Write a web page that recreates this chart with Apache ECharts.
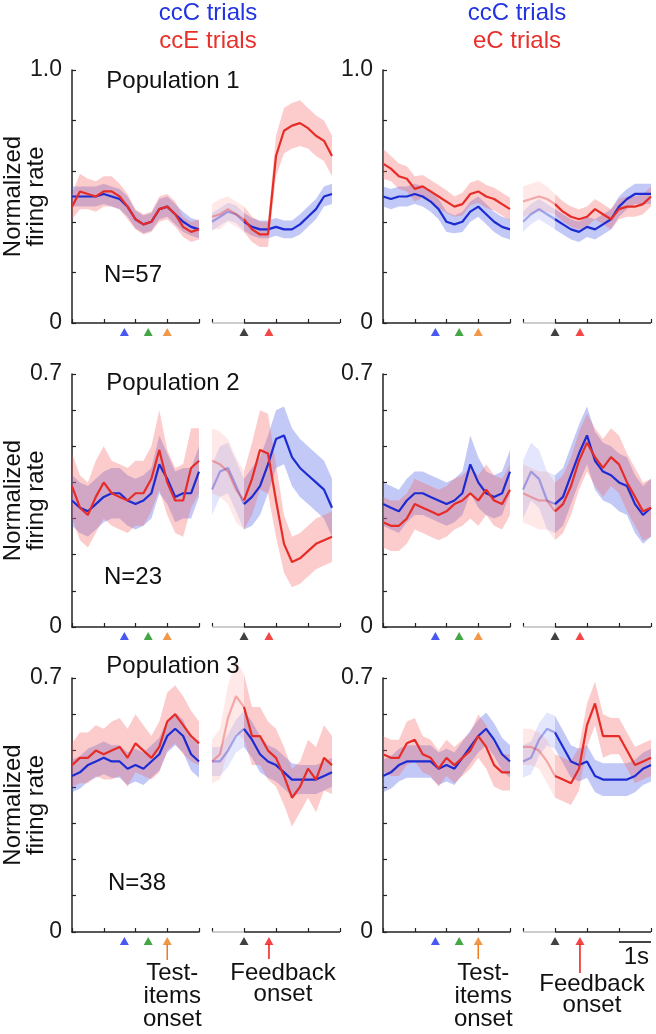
<!DOCTYPE html>
<html><head><meta charset="utf-8">
<script src="https://cdn.jsdelivr.net/npm/echarts@6/dist/echarts.min.js"></script>
<style>html,body{margin:0;padding:0;background:#fff}#c{width:656px;height:1034px}</style>
</head><body><div id="c"></div>
<script>
// ---- time grids (s) ----
const T_TEST = [-3,-2.75,-2.5,-2.25,-2,-1.75,-1.5,-1.25,-1,-0.75,-0.5,-0.25,0,0.25,0.5,0.75,1];
const T_FB = [-1,-0.75,-0.5,-0.25,0,0.25,0.5,0.75,1,1.25,1.5,1.75,2,2.25,2.5,2.75,3];
const MARK_TEST = [-1.35, -0.6, 0];   // blue, green, orange event markers
const MARK_FB = [0, 0.78];            // black (response), red (feedback)
const Y_MAX = [1.0, 0.7, 0.7];
const Y_STEP = [0.2, 0.1, 0.1];
const Y_TOP_LABEL = ['1.0', '0.7', '0.7'];
const POP_TITLES = ['Population 1', 'Population 2', 'Population 3'];
const POP_N = ['N=57', 'N=23', 'N=38'];
const LEG_LEFT = ['ccC trials', 'ccE trials'];
const LEG_RIGHT = ['ccC trials', 'eC trials'];

// ---- Population 1, left (ccC blue / ccE red) ----
const p1L_blueTest   = [0.50,0.50,0.50,0.50,0.51,0.50,0.49,0.46,0.41,0.39,0.40,0.45,0.46,0.43,0.40,0.38,0.37];
const p1L_blueTestSE = [0.04,0.04,0.04,0.04,0.04,0.04,0.04,0.04,0.035,0.035,0.035,0.04,0.04,0.04,0.04,0.035,0.035];
const p1L_redTest    = [0.46,0.52,0.51,0.50,0.52,0.52,0.50,0.46,0.41,0.39,0.40,0.45,0.46,0.43,0.38,0.36,0.37];
const p1L_redTestSE  = [0.05,0.07,0.06,0.06,0.06,0.06,0.05,0.05,0.04,0.04,0.04,0.05,0.05,0.05,0.04,0.04,0.04];
const p1L_blueFb     = [0.40,0.42,0.44,0.43,0.40,0.38,0.37,0.37,0.38,0.37,0.37,0.39,0.42,0.45,0.50,0.51];
const p1L_blueFbSE   = [0.035,0.035,0.035,0.035,0.035,0.035,0.035,0.035,0.035,0.035,0.035,0.04,0.04,0.04,0.04,0.04];
const p1L_redFb      = [0.42,0.43,0.45,0.43,0.41,0.37,0.35,0.35,0.66,0.76,0.78,0.79,0.77,0.74,0.72,0.66];
const p1L_redFbSE    = [0.05,0.06,0.05,0.05,0.05,0.05,0.05,0.05,0.08,0.09,0.09,0.09,0.08,0.08,0.08,0.08];
// ---- Population 1, right (ccC blue / eC red) ----
const p1R_blueTest   = [0.50,0.49,0.50,0.50,0.51,0.50,0.48,0.45,0.40,0.39,0.40,0.44,0.46,0.43,0.40,0.38,0.37];
const p1R_blueTestSE = [0.04,0.04,0.04,0.04,0.04,0.04,0.04,0.04,0.04,0.035,0.04,0.04,0.04,0.04,0.04,0.04,0.04];
const p1R_redTest    = [0.63,0.61,0.58,0.57,0.53,0.54,0.52,0.50,0.48,0.46,0.47,0.51,0.52,0.50,0.49,0.47,0.45];
const p1R_redTestSE  = [0.06,0.05,0.05,0.05,0.05,0.045,0.045,0.045,0.045,0.04,0.045,0.045,0.045,0.045,0.045,0.045,0.045];
const p1R_blueFb     = [0.40,0.43,0.45,0.43,0.41,0.39,0.37,0.36,0.38,0.37,0.39,0.41,0.46,0.49,0.51,0.51,0.51];
const p1R_blueFbSE   = [0.04,0.04,0.04,0.04,0.04,0.04,0.04,0.04,0.04,0.04,0.04,0.04,0.04,0.04,0.04,0.04,0.04];
const p1R_redFb      = [0.48,0.49,0.50,0.49,0.47,0.44,0.42,0.41,0.42,0.45,0.43,0.41,0.45,0.46,0.46,0.47,0.50];
const p1R_redFbSE    = [0.06,0.06,0.06,0.05,0.04,0.04,0.04,0.04,0.04,0.04,0.04,0.04,0.04,0.04,0.04,0.04,0.04];
// ---- Population 2, left ----
const p2L_blueTest   = [0.35,0.33,0.32,0.34,0.36,0.37,0.37,0.35,0.34,0.35,0.37,0.45,0.41,0.36,0.37,0.37,0.43];
const p2L_blueTestSE = [0.07,0.07,0.07,0.07,0.07,0.07,0.07,0.07,0.07,0.07,0.07,0.08,0.07,0.07,0.07,0.07,0.07];
const p2L_redTest    = [0.39,0.33,0.31,0.36,0.40,0.37,0.36,0.35,0.37,0.37,0.41,0.49,0.40,0.35,0.35,0.44,0.46];
const p2L_redTestSE  = [0.09,0.09,0.09,0.10,0.10,0.09,0.09,0.09,0.09,0.09,0.09,0.11,0.09,0.09,0.10,0.11,0.09];
const p2L_blueFb     = [0.38,0.43,0.44,0.39,0.34,0.36,0.39,0.45,0.52,0.53,0.47,0.44,0.42,0.40,0.38,0.33];
const p2L_blueFbSE   = [0.07,0.07,0.07,0.07,0.07,0.08,0.08,0.08,0.08,0.08,0.08,0.08,0.08,0.08,0.08,0.08];
const p2L_redFb      = [0.46,0.45,0.43,0.38,0.35,0.41,0.49,0.48,0.35,0.23,0.18,0.19,0.21,0.23,0.24,0.25];
const p2L_redFbSE    = [0.09,0.09,0.09,0.09,0.08,0.10,0.11,0.11,0.10,0.08,0.07,0.07,0.07,0.07,0.07,0.07];
// ---- Population 2, right ----
const p2R_blueTest   = [0.34,0.33,0.32,0.35,0.37,0.37,0.36,0.35,0.34,0.35,0.37,0.45,0.40,0.37,0.36,0.37,0.43];
const p2R_blueTestSE = [0.06,0.06,0.06,0.06,0.06,0.06,0.06,0.06,0.06,0.06,0.06,0.08,0.07,0.06,0.06,0.06,0.06];
const p2R_redTest    = [0.29,0.28,0.28,0.30,0.34,0.33,0.32,0.31,0.32,0.34,0.35,0.37,0.35,0.38,0.35,0.34,0.38];
const p2R_redTestSE  = [0.07,0.07,0.07,0.07,0.07,0.07,0.07,0.07,0.07,0.07,0.07,0.07,0.07,0.07,0.07,0.07,0.07];
const p2R_blueFb     = [0.38,0.43,0.41,0.35,0.34,0.36,0.42,0.48,0.53,0.46,0.43,0.42,0.40,0.39,0.34,0.31,0.33];
const p2R_blueFbSE   = [0.08,0.08,0.08,0.08,0.08,0.08,0.08,0.08,0.08,0.08,0.08,0.08,0.08,0.08,0.08,0.08,0.08];
const p2R_redFb      = [0.37,0.36,0.35,0.35,0.32,0.34,0.39,0.46,0.51,0.47,0.44,0.47,0.45,0.40,0.36,0.32,0.33];
const p2R_redFbSE    = [0.08,0.08,0.08,0.08,0.08,0.08,0.08,0.08,0.08,0.08,0.08,0.08,0.08,0.08,0.08,0.08,0.08];
// ---- Population 3, left ----
const p3L_blueTest   = [0.43,0.44,0.46,0.47,0.48,0.47,0.47,0.45,0.46,0.45,0.47,0.49,0.54,0.56,0.54,0.49,0.47];
const p3L_blueTestSE = [0.045,0.045,0.045,0.045,0.045,0.045,0.045,0.045,0.045,0.045,0.045,0.045,0.045,0.045,0.045,0.045,0.045];
const p3L_redTest    = [0.46,0.48,0.48,0.50,0.49,0.50,0.51,0.48,0.52,0.50,0.48,0.51,0.58,0.60,0.57,0.54,0.52];
const p3L_redTestSE  = [0.06,0.07,0.07,0.07,0.07,0.08,0.08,0.08,0.08,0.07,0.06,0.07,0.08,0.08,0.08,0.07,0.06];
const p3L_blueFb     = [0.47,0.47,0.50,0.54,0.56,0.53,0.49,0.47,0.46,0.44,0.42,0.42,0.42,0.42,0.43,0.44];
const p3L_blueFbSE   = [0.04,0.04,0.045,0.045,0.05,0.05,0.05,0.045,0.045,0.045,0.045,0.04,0.04,0.04,0.04,0.04];
const p3L_redFb      = [0.47,0.49,0.59,0.65,0.62,0.54,0.54,0.50,0.48,0.43,0.37,0.40,0.45,0.42,0.48,0.46];
const p3L_redFbSE    = [0.06,0.07,0.09,0.10,0.09,0.08,0.08,0.08,0.08,0.08,0.08,0.07,0.08,0.09,0.09,0.08];
// ---- Population 3, right ----
const p3R_blueTest   = [0.43,0.44,0.46,0.47,0.47,0.47,0.47,0.45,0.46,0.45,0.48,0.51,0.54,0.56,0.53,0.49,0.47];
const p3R_blueTestSE = [0.045,0.045,0.045,0.045,0.045,0.045,0.045,0.045,0.045,0.045,0.045,0.045,0.045,0.045,0.045,0.045,0.045];
const p3R_redTest    = [0.49,0.48,0.48,0.52,0.53,0.49,0.48,0.45,0.48,0.46,0.48,0.50,0.54,0.51,0.46,0.44,0.44];
const p3R_redTestSE  = [0.05,0.05,0.05,0.06,0.06,0.05,0.05,0.05,0.05,0.05,0.05,0.05,0.06,0.06,0.06,0.05,0.05];
const p3R_blueFb     = [0.47,0.48,0.53,0.56,0.55,0.51,0.47,0.46,0.47,0.43,0.42,0.42,0.42,0.42,0.43,0.45,0.46];
const p3R_blueFbSE   = [0.045,0.045,0.045,0.045,0.045,0.045,0.045,0.045,0.045,0.045,0.045,0.045,0.045,0.045,0.045,0.045,0.045];
const p3R_redFb      = [0.51,0.51,0.50,0.47,0.43,0.42,0.41,0.45,0.57,0.63,0.54,0.54,0.54,0.50,0.46,0.47,0.48];
const p3R_redFbSE    = [0.05,0.05,0.05,0.06,0.06,0.06,0.06,0.06,0.06,0.06,0.06,0.05,0.05,0.05,0.05,0.05,0.05];

const PANELS = [
  [p1L_blueTest,p1L_blueTestSE,p1L_redTest,p1L_redTestSE,p1L_blueFb,p1L_blueFbSE,p1L_redFb,p1L_redFbSE],
  [p1R_blueTest,p1R_blueTestSE,p1R_redTest,p1R_redTestSE,p1R_blueFb,p1R_blueFbSE,p1R_redFb,p1R_redFbSE],
  [p2L_blueTest,p2L_blueTestSE,p2L_redTest,p2L_redTestSE,p2L_blueFb,p2L_blueFbSE,p2L_redFb,p2L_redFbSE],
  [p2R_blueTest,p2R_blueTestSE,p2R_redTest,p2R_redTestSE,p2R_blueFb,p2R_blueFbSE,p2R_redFb,p2R_redFbSE],
  [p3L_blueTest,p3L_blueTestSE,p3L_redTest,p3L_redTestSE,p3L_blueFb,p3L_blueFbSE,p3L_redFb,p3L_redFbSE],
  [p3R_blueTest,p3R_blueTestSE,p3R_redTest,p3R_redTestSE,p3R_blueFb,p3R_blueFbSE,p3R_redFb,p3R_redFbSE]
];

// ---- layout / style ----
const FONT = "'Liberation Sans', Arial, Helvetica, sans-serif";
const ROW_BOX = [{top:70,h:253},{top:374,h:253},{top:678,h:254}];
const COL_BOX = [[72,127],[212,128],[383,127],[523,128]];
const BLUE = '#1c2bd2', RED = '#e62c27';
const BLUE_BAND = 'rgba(70,90,232,0.33)', RED_BAND = 'rgba(245,95,95,0.32)';
const MARK_TEST_COL = ['#1a2ef0', '#179017', '#ee7d1a'];
const MARK_FB_COL = ['#111111', '#f01818'];
const AX = '#222';

const chart = echarts.init(document.getElementById('c'), null, {renderer:'canvas'});
const grid = [], xAxis = [], yAxis = [], series = [];

function bandSeries(g, T, m, se, color, opacity, from, to) {
  const pts = [];
  for (let i = from; i <= to && i < m.length; i++) pts.push([T[i], m[i]-se[i], m[i]+se[i]]);
  return {
    type:'custom', xAxisIndex:g, yAxisIndex:g, silent:true, z:1, clip:false,
    data: pts, encode:{x:0, y:[1,2]},
    renderItem: function(params, api) {
      if (params.dataIndex !== 0) return;
      const up = pts.map(p => api.coord([p[0], p[2]]));
      const lo = pts.map(p => api.coord([p[0], p[1]])).reverse();
      return {type:'polygon', shape:{points: up.concat(lo)}, style:{fill: color, opacity: opacity}};
    }
  };
}
function lineSeries(g, T, m, color, opacity, from, to, z) {
  const d = [];
  for (let i = from; i <= to && i < m.length; i++) d.push([T[i], m[i]]);
  return {type:'line', xAxisIndex:g, yAxisIndex:g, data:d, symbol:'none', silent:true, z:z,
    lineStyle:{color:color, width:2.2, opacity:opacity}, animation:false};
}

for (let r = 0; r < 3; r++) {
  for (let k = 0; k < 4; k++) {
    const g = r*4 + k;
    const isTest = (k % 2 === 0);
    grid.push({left: COL_BOX[k][0], top: ROW_BOX[r].top, width: COL_BOX[k][1], height: ROW_BOX[r].h});
    xAxis.push({type:'value', gridIndex:g, min: isTest ? -3 : -1, max: isTest ? 1 : 3, interval:1,
      axisLine:{show:isTest, onZero:false, lineStyle:{color:AX, width:1.5}},
      axisTick:{show:true, inside:true, length:4, lineStyle:{color:AX, width:1.2}},
      axisLabel:{show:false}, splitLine:{show:false}});
    const ymax = Y_MAX[r], lab = Y_TOP_LABEL[r];
    yAxis.push({type:'value', gridIndex:g, min:0, max:ymax, interval:Y_STEP[r], show:isTest,
      axisLine:{show:isTest, onZero:false, lineStyle:{color:AX, width:1.5}},
      axisTick:{show:isTest, inside:true, length:4, lineStyle:{color:AX, width:1.2}},
      axisLabel:{show:isTest, margin:10, fontFamily:FONT, fontSize:23, color:'#1a1a1a',
        formatter: v => (v === 0 ? '0' : (Math.abs(v - ymax) < 1e-6 ? lab : ''))},
      splitLine:{show:false}});
    const P = PANELS[r*2 + (k < 2 ? 0 : 1)];
    if (isTest) {
      const n = T_TEST.length - 1;
      series.push(bandSeries(g, T_TEST, P[0], P[1], BLUE_BAND, 1, 0, n));
      series.push(bandSeries(g, T_TEST, P[2], P[3], RED_BAND, 1, 0, n));
      series.push(lineSeries(g, T_TEST, P[0], BLUE, 1, 0, n, 3));
      series.push(lineSeries(g, T_TEST, P[2], RED, 1, 0, n, 4));
      series.push({type:'scatter', xAxisIndex:g, yAxisIndex:g, clip:false, silent:true, z:5,
        symbol:'triangle', symbolSize:[9,8], symbolOffset:[0,9],
        data: MARK_TEST.map((t,i) => ({value:[t,0], itemStyle:{color:MARK_TEST_COL[i]}}))});
    } else {
      const n = T_FB.length - 1, z0 = 4; // index of t=0
      series.push(bandSeries(g, T_FB, P[4], P[5], BLUE_BAND, 0.45, 0, z0));
      series.push(bandSeries(g, T_FB, P[6], P[7], RED_BAND, 0.45, 0, z0));
      series.push(bandSeries(g, T_FB, P[4], P[5], BLUE_BAND, 1, z0, n));
      series.push(bandSeries(g, T_FB, P[6], P[7], RED_BAND, 1, z0, n));
      series.push(lineSeries(g, T_FB, P[4], BLUE, 0.35, 0, z0, 3));
      series.push(lineSeries(g, T_FB, P[6], RED, 0.35, 0, z0, 3));
      series.push(lineSeries(g, T_FB, P[4], BLUE, 1, z0, n, 3));
      series.push(lineSeries(g, T_FB, P[6], RED, 1, z0, n, 4));
      // baseline: faded before response, dark after
      series.push({type:'line', xAxisIndex:g, yAxisIndex:g, clip:false, silent:true, symbol:'none', z:6,
        data:[[-1,0],[0,0]], lineStyle:{color:'#bdbdbd', width:1.5}});
      series.push({type:'line', xAxisIndex:g, yAxisIndex:g, clip:false, silent:true, symbol:'none', z:6,
        data:[[0,0],[3,0]], lineStyle:{color:AX, width:1.5}});
      series.push({type:'scatter', xAxisIndex:g, yAxisIndex:g, clip:false, silent:true, z:5,
        symbol:'triangle', symbolSize:[9,8], symbolOffset:[0,9],
        data: MARK_FB.map((t,i) => ({value:[t,0], itemStyle:{color:MARK_FB_COL[i]}}))});
    }
  }
}

chart.setOption({animation:false, backgroundColor:'#fff', grid, xAxis, yAxis, series});

// ---- text / annotations positioned through the axes ----
const px = (g, t, v) => chart.convertToPixel({gridIndex:g}, [t, v]);
const gr = [];
function txt(x, y, s, opt) {
  gr.push(Object.assign({type:'text', x:x, y:y, silent:true, z:100,
    style:Object.assign({text:s, fontFamily:FONT, fontSize:24, fill:'#111', align:'center', verticalAlign:'middle'}, opt || {})}));
}
// legends
txt(208, 13, LEG_LEFT[0], {fill:'#2233e0'});
txt(208, 41, LEG_LEFT[1], {fill:'#e8302b'});
txt(517, 13, LEG_RIGHT[0], {fill:'#2233e0'});
txt(517, 41, LEG_RIGHT[1], {fill:'#e8302b'});
const titleY = [81, 383, 666], nY = [275, 577, 883], nX = [133, 133, 137];
for (let r = 0; r < 3; r++) {
  txt(173, titleY[r], POP_TITLES[r]);
  txt(nX[r], nY[r], POP_N[r]);
  const yc = ROW_BOX[r].top + ROW_BOX[r].h / 2;
  gr.push({type:'text', x:25, y:yc, rotation:Math.PI/2, silent:true, z:100,
    style:{text:'Normalized\nfiring rate', fontFamily:FONT, fontSize:24, lineHeight:23, fill:'#111', align:'center', verticalAlign:'middle'}});
}
// arrows in bottom row
function arrow(g, t, len, color) {
  const p = px(g, t, 0);
  gr.push({type:'line', silent:true, z:100, shape:{x1:p[0], y1:p[1]+12, x2:p[0], y2:p[1]+len}, style:{stroke:color, lineWidth:1.5}});
  return p;
}
let a = arrow(8, MARK_TEST[2], 28, MARK_TEST_COL[2]);
txt(a[0]+5, 962, 'Test-\nitems\nonset', {verticalAlign:'top', lineHeight:23});
a = arrow(9, MARK_FB[1], 27, MARK_FB_COL[1]);
txt(a[0]+14, 963, 'Feedback\nonset', {verticalAlign:'top', lineHeight:21});
a = arrow(10, MARK_TEST[2], 27, MARK_TEST_COL[2]);
txt(a[0]+5, 962, 'Test-\nitems\nonset', {verticalAlign:'top', lineHeight:23});
a = arrow(11, MARK_FB[1], 41, MARK_FB_COL[1]);
txt(a[0]+12, 974, 'Feedback\nonset', {verticalAlign:'top', lineHeight:21});
// 1 s scale bar
const s0 = px(11, 2, 0), s1 = px(11, 3, 0);
gr.push({type:'line', silent:true, z:100, shape:{x1:s0[0], y1:s0[1]+10, x2:s1[0], y2:s1[1]+10}, style:{stroke:'#444', lineWidth:2}});
txt(s1[0]-2, s1[1]+25, '1s', {align:'right'});
chart.setOption({graphic: gr});
</script></body></html>
